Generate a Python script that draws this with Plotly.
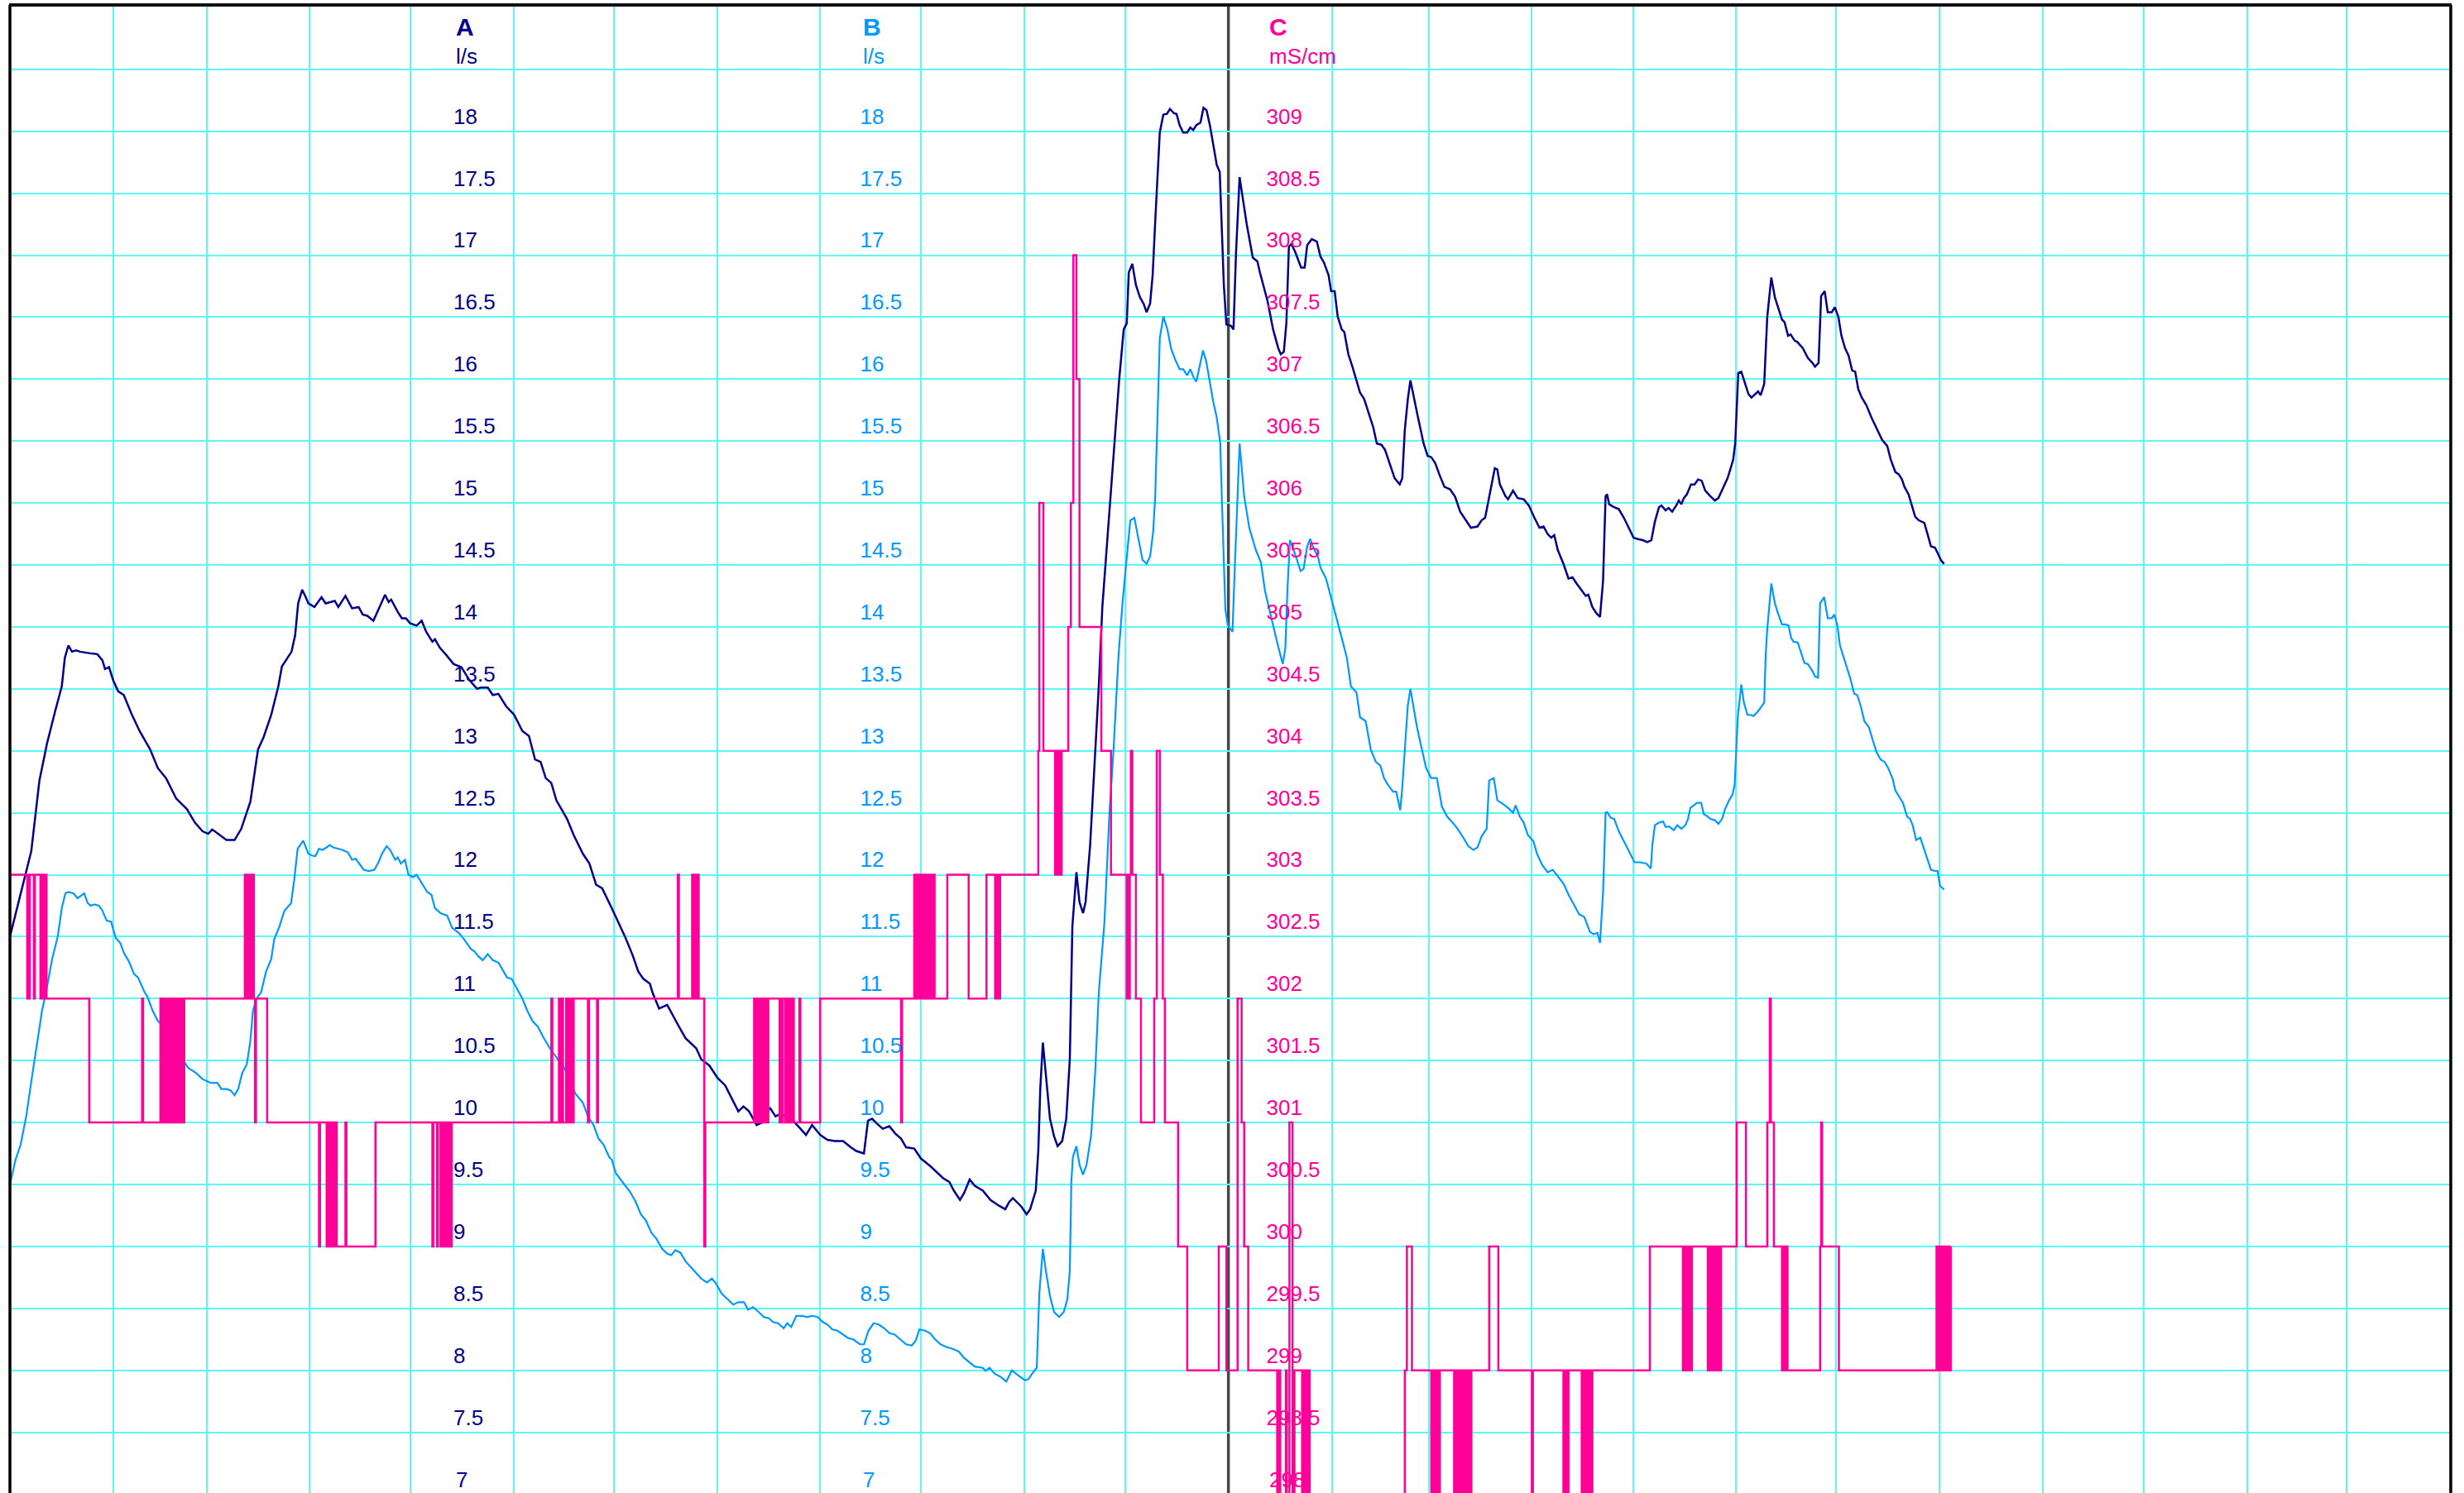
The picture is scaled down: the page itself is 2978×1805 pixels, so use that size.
import plotly.graph_objects as go

# ---------------- data (time in hours since start of record) ----------------
time_a = [0.00, 0.11, 0.26, 0.42, 0.58, 0.73, 0.89, 1.02, 1.08, 1.15, 1.22, 1.30, 1.38, 1.51, 1.61, 1.72, 1.82, 1.87,
          1.95, 2.03, 2.13, 2.24, 2.39, 2.55, 2.76, 2.91, 3.07, 3.27, 3.48, 3.64, 3.79, 3.90, 3.98, 4.16, 4.26, 4.42,
          4.55, 4.73, 4.88, 4.99, 5.14, 5.28, 5.35, 5.54, 5.61, 5.67, 5.75, 5.82, 5.87, 5.99, 6.13, 6.21, 6.39, 6.46,
          6.60, 6.73, 6.86, 6.94, 7.03, 7.15, 7.25, 7.38, 7.45, 7.50, 7.63, 7.71, 7.79, 7.87, 8.00, 8.10, 8.19, 8.31,
          8.36, 8.46, 8.57, 8.73, 8.88, 9.04, 9.19, 9.26, 9.40, 9.50, 9.61, 9.76, 9.92, 10.08, 10.21, 10.33, 10.44,
          10.54, 10.65, 10.75, 10.96, 11.09, 11.27, 11.40, 11.53, 11.65, 11.84, 11.92, 12.10, 12.25, 12.36, 12.46,
          12.59, 12.64, 12.77, 12.93, 13.03, 13.14, 13.29, 13.50, 13.60, 13.76, 13.92, 14.07, 14.23, 14.33, 14.43,
          14.54, 14.69, 14.80, 14.95, 15.06, 15.16, 15.37, 15.53, 15.66, 15.78, 15.94, 16.08, 16.23, 16.39, 16.54,
          16.65, 16.75, 16.80, 16.88, 16.96, 17.06, 17.17, 17.30, 17.42, 17.53, 17.63, 17.79, 17.92, 18.10, 18.26,
          18.36, 18.48, 18.57, 18.69, 18.77, 18.88, 18.98, 19.14, 19.29, 19.45, 19.58, 19.66, 19.73, 19.90, 20.00,
          20.07, 20.18, 20.23, 20.27, 20.32, 20.38, 20.46, 20.54, 20.61, 20.70, 20.78, 20.85, 20.90, 20.98, 21.04,
          21.11, 21.16, 21.25, 21.32, 21.42, 21.49, 21.58, 21.65, 21.73, 21.82, 21.91, 21.97, 22.01, 22.08, 22.15,
          22.23, 22.30, 22.36, 22.43, 22.48, 22.53, 22.62, 22.69, 22.76, 22.82, 22.90, 22.95, 23.01, 23.08, 23.16,
          23.22, 23.28, 23.34, 23.42, 23.48, 23.54, 23.61, 23.69, 23.74, 23.80, 23.84, 23.88, 23.93, 24.02, 24.07,
          24.12, 24.19, 24.26, 24.33, 24.45, 24.54, 24.59, 24.67, 24.74, 24.85, 24.95, 25.00, 25.06, 25.11, 25.16,
          25.21, 25.29, 25.40, 25.47, 25.52, 25.61, 25.71, 25.78, 25.85, 25.94, 25.99, 26.06, 26.12, 26.20, 26.25,
          26.33, 26.41, 26.49, 26.56, 26.64, 26.72, 26.82, 26.89, 26.98, 27.05, 27.13, 27.24, 27.34, 27.39, 27.44,
          27.50, 27.55, 27.62, 27.70, 27.81, 27.89, 27.96, 28.04, 28.12, 28.22, 28.33, 28.43, 28.53, 28.64, 28.74,
          28.87, 28.95, 29.02, 29.10, 29.21, 29.26, 29.31, 29.42, 29.47, 29.57, 29.66, 29.78, 29.88, 29.99, 30.09,
          30.17, 30.25, 30.32, 30.38, 30.45, 30.56, 30.66, 30.74, 30.82, 30.92, 31.00, 31.05, 31.13, 31.21, 31.28,
          31.34, 31.39, 31.42, 31.46, 31.54, 31.65, 31.75, 31.86, 31.94, 32.01, 32.12, 32.21, 32.29, 32.36, 32.44,
          32.49, 32.57, 32.63, 32.70, 32.78, 32.83, 32.88, 32.93, 32.99, 33.07, 33.14, 33.21, 33.28, 33.35, 33.45,
          33.54, 33.61, 33.71, 33.79, 33.85, 33.90, 33.94, 33.97, 34.00, 34.06, 34.13, 34.20, 34.26, 34.34, 34.39,
          34.44, 34.51, 34.57, 34.65, 34.72, 34.78, 34.86, 34.91, 34.98, 35.03, 35.11, 35.16, 35.27, 35.37, 35.46,
          35.51, 35.58, 35.63, 35.70, 35.76, 35.84, 35.90, 35.97, 36.03, 36.10, 36.17, 36.24, 36.30, 36.36, 36.43,
          36.52, 36.62, 36.72, 36.83, 36.93, 37.00, 37.09, 37.16, 37.22, 37.27, 37.35, 37.42, 37.48, 37.55, 37.66,
          37.73, 37.79, 37.87, 37.94, 38.00, 38.05]
flow_a = [11.50, 11.68, 11.91, 12.19, 12.76, 13.06, 13.32, 13.52, 13.75, 13.85, 13.80, 13.81, 13.80, 13.79, 13.785,
          13.78, 13.73, 13.66, 13.675, 13.57, 13.48, 13.45, 13.30, 13.16, 13.01, 12.86, 12.78, 12.615, 12.53, 12.42,
          12.35, 12.33, 12.365, 12.31, 12.28, 12.28, 12.37, 12.59, 13.01, 13.11, 13.29, 13.52, 13.68, 13.80, 13.93,
          14.19, 14.30, 14.24, 14.19, 14.16, 14.24, 14.19, 14.21, 14.16, 14.25, 14.15, 14.16, 14.10, 14.09, 14.05,
          14.14, 14.26, 14.20, 14.22, 14.12, 14.07, 14.07, 14.03, 14.01, 14.05, 13.96, 13.88, 13.90, 13.83, 13.78,
          13.70, 13.675, 13.57, 13.50, 13.51, 13.51, 13.45, 13.46, 13.36, 13.29, 13.16, 13.12, 12.93, 12.91, 12.78,
          12.74, 12.60, 12.45, 12.32, 12.17, 12.09, 11.92, 11.89, 11.73, 11.66, 11.50, 11.35, 11.22, 11.16, 11.12,
          11.05, 10.92, 10.95, 10.87, 10.79, 10.68, 10.60, 10.51, 10.46, 10.36, 10.30, 10.17, 10.09, 10.13, 10.09,
          9.98, 10.00, 10.12, 10.05, 10.07, 10.03, 9.96, 9.90, 9.98, 9.90, 9.86, 9.85, 9.85, 9.80, 9.77, 9.76, 9.75,
          10.015, 10.03, 9.99, 9.95, 9.97, 9.91, 9.87, 9.80, 9.79, 9.71, 9.65, 9.59, 9.55, 9.52, 9.45, 9.375, 9.43,
          9.54, 9.49, 9.45, 9.375, 9.33, 9.30, 9.36, 9.39, 9.32, 9.26, 9.30, 9.45, 9.77, 10.28, 10.645, 10.38, 10.03,
          9.89, 9.81, 9.85, 10.03, 10.51, 11.58, 12.02, 11.78, 11.69, 11.78, 12.24, 12.75, 13.52, 14.16, 14.67, 15.06,
          15.53, 15.99, 16.40, 16.45, 16.86, 16.93, 16.76, 16.66, 16.61, 16.54, 16.61, 16.84, 17.27, 17.99, 18.135,
          18.14, 18.18, 18.145, 18.14, 18.05, 17.99, 17.99, 18.03, 18.01, 18.05, 18.07, 18.19, 18.17, 18.04, 17.83,
          17.73, 17.67, 17.14, 16.76, 16.44, 16.43, 16.40, 17.02, 17.63, 17.45, 17.25, 16.98, 16.95, 16.86, 16.73,
          16.63, 16.40, 16.25, 16.20, 16.22, 16.45, 17.07, 17.09, 17.02, 16.90, 16.90, 17.08, 17.13, 17.11, 16.99,
          16.94, 16.84, 16.71, 16.71, 16.505, 16.40, 16.38, 16.20, 16.10, 15.99, 15.89, 15.84, 15.74, 15.61, 15.48,
          15.47, 15.43, 15.33, 15.20, 15.15, 15.20, 15.59, 15.84, 15.99, 15.84, 15.69, 15.48, 15.38, 15.37, 15.32,
          15.23, 15.13, 15.11, 15.05, 14.93, 14.86, 14.80, 14.81, 14.86, 14.88, 15.055, 15.28, 15.27, 15.15, 15.055,
          15.03, 15.10, 15.04, 15.03, 14.98, 14.88, 14.80, 14.81, 14.75, 14.72, 14.74, 14.62, 14.51, 14.39, 14.40,
          14.35, 14.29, 14.25, 14.26, 14.16, 14.11, 14.08, 14.37, 15.055, 15.07, 14.99, 14.97, 14.95, 14.88, 14.79,
          14.72, 14.71, 14.70, 14.685, 14.70, 14.85, 14.965, 14.98, 14.94, 14.96, 14.93, 14.98, 15.02, 14.99, 15.04,
          15.07, 15.15, 15.15, 15.19, 15.18, 15.10, 15.055, 15.02, 15.04, 15.13, 15.20, 15.28, 15.35, 15.48, 15.74,
          16.05, 16.06, 15.97, 15.88, 15.85, 15.88, 15.90, 15.87, 15.96, 16.50, 16.82, 16.66, 16.58, 16.48, 16.46,
          16.35, 16.36, 16.31, 16.30, 16.25, 16.17, 16.13, 16.10, 16.13, 16.67, 16.71, 16.54, 16.54, 16.58, 16.50,
          16.35, 16.25, 16.19, 16.07, 16.06, 15.92, 15.85, 15.79, 15.69, 15.60, 15.51, 15.46, 15.35, 15.25, 15.23,
          15.19, 15.13, 15.07, 14.98, 14.89, 14.86, 14.84, 14.74, 14.65, 14.64, 14.58, 14.53, 14.51]

time_b = [0.00, 0.11, 0.21, 0.32, 0.42, 0.52, 0.63, 0.71, 0.83, 0.94, 1.02, 1.09, 1.15, 1.25, 1.33, 1.40, 1.46, 1.53,
          1.59, 1.66, 1.75, 1.82, 1.90, 1.99, 2.08, 2.17, 2.24, 2.34, 2.44, 2.52, 2.65, 2.70, 2.81, 2.91, 3.01, 3.10,
          3.22, 3.33, 3.41, 3.51, 3.66, 3.79, 3.95, 4.08, 4.16, 4.26, 4.34, 4.42, 4.49, 4.57, 4.66, 4.73, 4.78, 4.85,
          4.94, 5.04, 5.14, 5.20, 5.30, 5.40, 5.53, 5.59, 5.66, 5.77, 5.82, 5.87, 5.94, 6.01, 6.08, 6.15, 6.23, 6.29,
          6.36, 6.44, 6.54, 6.65, 6.73, 6.80, 6.89, 6.96, 7.06, 7.17, 7.25, 7.32, 7.41, 7.48, 7.58, 7.63, 7.69, 7.77,
          7.84, 7.93, 8.00, 8.10, 8.21, 8.29, 8.36, 8.47, 8.60, 8.70, 8.83, 8.93, 9.07, 9.14, 9.22, 9.30, 9.40, 9.50,
          9.61, 9.71, 9.78, 9.87, 9.95, 10.02, 10.08, 10.18, 10.28, 10.39, 10.49, 10.65, 10.78, 10.91, 11.01, 11.13,
          11.27, 11.37, 11.48, 11.58, 11.68, 11.79, 11.84, 11.92, 12.05, 12.20, 12.31, 12.41, 12.51, 12.62, 12.72,
          12.83, 12.93, 13.01, 13.09, 13.19, 13.29, 13.40, 13.50, 13.60, 13.71, 13.81, 13.89, 14.00, 14.10, 14.23,
          14.33, 14.44, 14.52, 14.62, 14.73, 14.83, 14.93, 15.01, 15.11, 15.22, 15.29, 15.37, 15.47, 15.58, 15.68,
          15.78, 15.89, 15.99, 16.08, 16.18, 16.28, 16.39, 16.49, 16.59, 16.72, 16.80, 16.89, 16.99, 17.09, 17.20,
          17.30, 17.40, 17.51, 17.63, 17.74, 17.82, 17.89, 18.00, 18.10, 18.20, 18.31, 18.41, 18.57, 18.67, 18.77,
          18.88, 18.98, 19.14, 19.19, 19.27, 19.38, 19.48, 19.60, 19.71, 19.83, 19.97, 20.04, 20.12, 20.20, 20.25,
          20.32, 20.38, 20.46, 20.54, 20.64, 20.73, 20.80, 20.85, 20.88, 20.91, 20.98, 21.04, 21.11, 21.18, 21.27,
          21.35, 21.42, 21.53, 21.63, 21.71, 21.81, 21.89, 21.97, 22.04, 22.12, 22.20, 22.28, 22.36, 22.43, 22.49,
          22.53, 22.62, 22.69, 22.77, 22.84, 22.93, 23.01, 23.08, 23.16, 23.22, 23.29, 23.34, 23.40, 23.47, 23.53,
          23.60, 23.67, 23.74, 23.81, 23.84, 23.88, 23.91, 23.96, 24.05, 24.09, 24.14, 24.19, 24.28, 24.38, 24.51,
          24.61, 24.69, 24.80, 24.88, 24.95, 25.04, 25.09, 25.13, 25.18, 25.23, 25.32, 25.39, 25.45, 25.52, 25.58,
          25.65, 25.73, 25.78, 25.89, 25.99, 26.09, 26.20, 26.30, 26.38, 26.49, 26.56, 26.67, 26.77, 26.87, 26.96,
          27.03, 27.10, 27.21, 27.27, 27.35, 27.39, 27.44, 27.50, 27.55, 27.60, 27.68, 27.76, 27.86, 27.96, 28.07,
          28.17, 28.27, 28.38, 28.48, 28.59, 28.69, 28.79, 28.87, 28.95, 29.05, 29.10, 29.19, 29.26, 29.34, 29.47,
          29.57, 29.62, 29.70, 29.78, 29.86, 29.97, 30.04, 30.14, 30.25, 30.35, 30.45, 30.56, 30.66, 30.77, 30.87,
          30.97, 31.08, 31.15, 31.23, 31.28, 31.34, 31.39, 31.42, 31.49, 31.56, 31.65, 31.75, 31.86, 31.96, 32.06,
          32.19, 32.28, 32.31, 32.36, 32.44, 32.52, 32.57, 32.64, 32.73, 32.80, 32.88, 32.96, 33.01, 33.06, 33.12,
          33.19, 33.27, 33.32, 33.40, 33.45, 33.54, 33.61, 33.68, 33.74, 33.82, 33.89, 33.93, 33.96, 33.99, 34.06,
          34.11, 34.18, 34.24, 34.30, 34.39, 34.46, 34.51, 34.54, 34.57, 34.65, 34.72, 34.78, 34.86, 34.93, 34.99,
          35.04, 35.09, 35.17, 35.24, 35.30, 35.37, 35.45, 35.51, 35.57, 35.61, 35.69, 35.76, 35.84, 35.89, 35.95,
          36.00, 36.05, 36.13, 36.20, 36.28, 36.34, 36.41, 36.48, 36.57, 36.65, 36.72, 36.80, 36.88, 36.95, 37.04,
          37.09, 37.16, 37.24, 37.32, 37.38, 37.43, 37.50, 37.58, 37.63, 37.71, 37.79, 37.87, 37.92, 37.97, 38.02,
          38.05]
flow_b = [9.50, 9.70, 9.82, 10.05, 10.33, 10.61, 10.90, 11.05, 11.32, 11.50, 11.73, 11.85, 11.86, 11.85, 11.81, 11.83,
          11.85, 11.77, 11.75, 11.76, 11.75, 11.71, 11.63, 11.62, 11.49, 11.45, 11.37, 11.30, 11.20, 11.17, 11.05,
          11.02, 10.90, 10.82, 10.78, 10.67, 10.63, 10.54, 10.50, 10.44, 10.40, 10.35, 10.32, 10.32, 10.27, 10.27,
          10.26, 10.22, 10.27, 10.40, 10.47, 10.66, 10.90, 11.00, 11.05, 11.22, 11.32, 11.48, 11.58, 11.71, 11.77,
          11.95, 12.21, 12.275, 12.22, 12.17, 12.155, 12.15, 12.21, 12.20, 12.22, 12.24, 12.22, 12.21, 12.20, 12.18,
          12.12, 12.13, 12.08, 12.04, 12.03, 12.04, 12.10, 12.17, 12.23, 12.20, 12.12, 12.14, 12.09, 12.12, 12.00,
          11.98, 12.00, 11.93, 11.86, 11.84, 11.73, 11.69, 11.67, 11.57, 11.53, 11.48, 11.40, 11.38, 11.34, 11.31,
          11.36, 11.31, 11.29, 11.22, 11.17, 11.16, 11.10, 11.05, 11.00, 10.90, 10.82, 10.77, 10.69, 10.58, 10.51,
          10.44, 10.33, 10.23, 10.16, 10.05, 9.98, 9.87, 9.82, 9.72, 9.70, 9.59, 9.52, 9.44, 9.36, 9.26, 9.21, 9.11,
          9.06, 8.98, 8.94, 8.93, 8.97, 8.95, 8.88, 8.83, 8.79, 8.74, 8.71, 8.74, 8.70, 8.62, 8.58, 8.53, 8.55, 8.55,
          8.49, 8.51, 8.47, 8.43, 8.42, 8.39, 8.38, 8.34, 8.38, 8.35, 8.44, 8.44, 8.43, 8.44, 8.43, 8.39, 8.37, 8.33,
          8.32, 8.29, 8.26, 8.25, 8.21, 8.21, 8.32, 8.38, 8.37, 8.34, 8.30, 8.29, 8.25, 8.21, 8.20, 8.24, 8.33, 8.32,
          8.30, 8.25, 8.21, 8.19, 8.17, 8.15, 8.10, 8.06, 8.03, 8.02, 7.996, 8.02, 7.97, 7.95, 7.91, 8.00, 7.96, 7.92,
          7.93, 7.98, 8.02, 8.62, 8.98, 8.80, 8.60, 8.47, 8.43, 8.47, 8.57, 8.80, 9.52, 9.72, 9.81, 9.66, 9.58, 9.66,
          9.90, 10.41, 11.05, 11.61, 12.50, 13.01, 13.78, 14.21, 14.57, 14.86, 14.88, 14.72, 14.54, 14.51, 14.57,
          14.77, 15.055, 16.33, 16.505, 16.40, 16.25, 16.15, 16.08, 16.08, 16.03, 16.08, 16.01, 15.98, 16.10, 16.23,
          16.15, 15.99, 15.82, 15.69, 15.48, 15.05, 14.42, 14.14, 14.01, 13.96, 14.42, 14.93, 15.48, 15.055, 14.80,
          14.62, 14.52, 14.29, 14.11, 13.96, 13.84, 13.70, 13.83, 14.29, 14.70, 14.65, 14.54, 14.45, 14.47, 14.65,
          14.71, 14.63, 14.57, 14.48, 14.39, 14.24, 14.08, 13.91, 13.75, 13.52, 13.47, 13.27, 13.24, 13.01, 12.91,
          12.88, 12.78, 12.73, 12.67, 12.67, 12.52, 12.70, 13.01, 13.37, 13.50, 13.37, 13.19, 13.04, 12.86, 12.78,
          12.78, 12.55, 12.47, 12.42, 12.37, 12.30, 12.23, 12.20, 12.22, 12.31, 12.37, 12.76, 12.78, 12.60, 12.58,
          12.54, 12.50, 12.56, 12.47, 12.42, 12.32, 12.27, 12.17, 12.08, 12.02, 12.04, 11.99, 11.93, 11.84, 11.76,
          11.68, 11.66, 11.54, 11.52, 11.53, 11.45, 11.86, 12.50, 12.505, 12.46, 12.45, 12.35, 12.27, 12.18, 12.10,
          12.10, 12.09, 12.05, 12.24, 12.40, 12.42, 12.43, 12.385, 12.39, 12.36, 12.40, 12.37, 12.40, 12.45, 12.54,
          12.56, 12.58, 12.58, 12.49, 12.47, 12.45, 12.44, 12.41, 12.45, 12.53, 12.60, 12.65, 12.73, 13.01, 13.27,
          13.535, 13.39, 13.29, 13.29, 13.28, 13.32, 13.36, 13.39, 13.78, 13.98, 14.35, 14.19, 14.11, 14.02, 14.02,
          14.01, 13.91, 13.88, 13.875, 13.78, 13.71, 13.70, 13.65, 13.60, 13.59, 14.19, 14.24, 14.07, 14.07, 14.10,
          14.01, 13.85, 13.79, 13.68, 13.59, 13.46, 13.45, 13.36, 13.24, 13.19, 13.08, 12.99, 12.93, 12.91, 12.86,
          12.77, 12.68, 12.63, 12.58, 12.47, 12.45, 12.40, 12.28, 12.30, 12.24, 12.14, 12.04, 12.03, 12.03, 11.91,
          11.89, 11.88]

time_c = [0.00, 0.34, 0.36, 0.37, 0.39, 0.47, 0.49, 0.60, 0.62, 0.64, 0.66, 0.68, 0.70, 0.72, 1.56, 2.60, 2.62, 2.96,
          2.98, 3.02, 3.04, 3.06, 3.08, 3.10, 3.12, 3.16, 3.18, 3.20, 3.22, 3.24, 3.26, 3.28, 3.30, 3.32, 3.34, 3.36,
          3.38, 3.40, 3.41, 3.43, 4.62, 4.64, 4.66, 4.68, 4.70, 4.72, 4.74, 4.76, 4.78, 4.80, 4.82, 4.84, 5.06, 6.08,
          6.10, 6.23, 6.25, 6.27, 6.29, 6.31, 6.33, 6.35, 6.37, 6.39, 6.41, 6.43, 6.60, 6.62, 7.19, 8.31, 8.33, 8.40,
          8.42, 8.47, 8.49, 8.51, 8.53, 8.55, 8.57, 8.59, 8.61, 8.63, 8.65, 8.67, 8.69, 10.65, 10.67, 10.80, 10.82,
          10.86, 10.88, 10.94, 10.96, 10.98, 11.00, 11.02, 11.04, 11.06, 11.08, 11.09, 11.37, 11.39, 11.55, 11.57,
          13.14, 13.16, 13.42, 13.44, 13.46, 13.48, 13.50, 13.52, 13.54, 13.55, 13.66, 13.68, 14.64, 14.66, 14.68,
          14.70, 14.72, 14.74, 14.76, 14.78, 14.80, 14.82, 14.84, 14.86, 14.88, 14.90, 14.92, 15.14, 15.16, 15.18,
          15.20, 15.25, 15.27, 15.29, 15.31, 15.34, 15.36, 15.38, 15.40, 15.42, 15.53, 15.55, 15.94, 17.53, 17.55,
          17.79, 17.81, 17.83, 17.85, 17.87, 17.89, 17.91, 17.92, 17.95, 17.97, 18.00, 18.02, 18.05, 18.07, 18.09,
          18.11, 18.13, 18.15, 18.17, 18.19, 18.44, 18.86, 19.21, 19.38, 19.40, 19.42, 19.44, 19.46, 19.48, 20.23,
          20.25, 20.33, 20.56, 20.58, 20.60, 20.62, 20.64, 20.66, 20.68, 20.69, 20.82, 20.87, 20.92, 20.98, 21.04,
          21.47, 21.66, 21.97, 21.99, 22.01, 22.03, 22.05, 22.08, 22.15, 22.25, 22.51, 22.56, 22.62, 22.68, 22.72,
          22.98, 23.16, 23.78, 23.93, 24.15, 24.23, 24.28, 24.36, 24.93, 24.97, 24.99, 25.10, 25.12, 25.17, 25.23,
          25.27, 25.42, 25.44, 25.46, 25.48, 25.50, 25.52, 25.54, 25.56, 25.57, 27.44, 27.48, 27.58, 27.96, 27.98,
          28.00, 28.02, 28.04, 28.06, 28.08, 28.10, 28.12, 28.13, 28.41, 28.43, 28.45, 28.47, 28.49, 28.51, 28.53,
          28.55, 28.57, 28.59, 28.61, 28.63, 28.65, 28.67, 28.69, 28.71, 28.73, 28.75, 29.10, 29.28, 29.94, 29.96,
          30.56, 30.58, 30.60, 30.62, 30.64, 30.66, 30.92, 30.94, 30.96, 30.98, 31.00, 31.02, 31.04, 31.06, 31.08,
          31.10, 31.12, 31.13, 32.26, 32.91, 32.93, 32.95, 32.97, 32.99, 33.01, 33.03, 33.05, 33.07, 33.09, 33.40,
          33.42, 33.44, 33.46, 33.48, 33.50, 33.52, 33.54, 33.56, 33.58, 33.60, 33.62, 33.64, 33.66, 33.97, 34.15,
          34.57, 34.62, 34.64, 34.70, 34.86, 34.88, 34.90, 34.92, 34.94, 34.96, 34.97, 35.61, 35.63, 35.65, 35.98,
          37.90, 37.92, 37.94, 37.96, 37.98, 38.00, 38.02, 38.04, 38.06, 38.08, 38.10, 38.12, 38.14, 38.16, 38.18]
cond_c = [303, 302, 303, 302, 303, 302, 303, 302, 303, 302, 303, 302, 303, 302, 301, 302, 301, 302,
          301, 302, 301, 302, 301, 302, 301, 302, 301, 302, 301, 302, 301, 302, 301, 302, 301, 302,
          301, 302, 301, 302, 303, 302, 303, 302, 303, 302, 303, 302, 303, 302, 301, 302, 301, 300,
          301, 300, 301, 300, 301, 300, 301, 300, 301, 300, 301, 300, 301, 300, 301, 300, 301, 300,
          301, 300, 301, 300, 301, 300, 301, 300, 301, 300, 301, 300, 301, 302, 301, 302, 301,
          302, 301, 302, 301, 302, 301, 302, 301, 302, 301, 302, 301, 302, 301, 302,
          303, 302, 303, 302, 303, 302, 303, 302, 303, 302, 300, 301, 302, 301, 302,
          301, 302, 301, 302, 301, 302, 301, 302, 301, 302, 301, 302, 301, 302, 301,
          302, 301, 302, 301, 302, 301, 302, 301, 302, 301, 302, 301, 302, 301, 302,
          303, 302, 303, 302, 303, 302, 303, 302, 303, 302, 303, 302, 303, 302, 303,
          302, 303, 302, 303, 302, 303, 302, 303, 302, 303, 302, 303, 302, 303, 304,
          306, 304, 303, 304, 303, 304, 303, 304, 303, 304, 305, 306, 308, 307, 305,
          304, 303, 302, 303, 302, 303, 304, 303, 302, 301, 302, 304, 303, 302, 301,
          300, 299, 300, 299, 302, 301, 300, 299, 298, 299, 298, 299, 298, 301, 298,
          299, 298, 299, 298, 299, 298, 299, 298, 299, 298, 299, 300, 299, 298, 299,
          298, 299, 298, 299, 298, 299, 298, 299, 298, 299, 298, 299, 298, 299, 298,
          299, 298, 299, 298, 299, 298, 299, 298, 299, 298, 299, 300, 299, 298, 299,
          298, 299, 298, 299, 298, 299, 298, 299, 298, 299, 298, 299, 298, 299, 298,
          299, 298, 299, 300, 299, 300, 299, 300, 299, 300, 299, 300, 299, 300, 299,
          300, 299, 300, 299, 300, 299, 300, 299, 300, 299, 300, 299, 300, 301, 300,
          301, 302, 301, 300, 299, 300, 299, 300, 299, 300, 299, 300, 301, 300, 299,
          300, 299, 300, 299, 300, 299, 300, 299, 300, 299, 300, 299, 300, 299, 300]

flow_tickvals = [7.5, 8, 8.5, 9, 9.5, 10, 10.5, 11, 11.5, 12, 12.5, 13, 13.5, 14, 14.5, 15, 15.5, 16, 16.5,
                 17, 17.5, 18, 18.5]
flow_ticktext = ["7.5", "8", "8.5", "9", "9.5", "10", "10.5", "11", "11.5", "12", "12.5", "13", "13.5",
                 "14", "14.5", "15", "15.5", "16", "16.5", "17", "17.5", "18", ""]
cond_tickvals = [298.5, 299, 299.5, 300, 300.5, 301, 301.5, 302, 302.5, 303, 303.5, 304, 304.5, 305, 305.5,
                 306, 306.5, 307, 307.5, 308, 308.5, 309, 309.5]
cond_ticktext = ["298.5", "299", "299.5", "300", "300.5", "301", "301.5", "302", "302.5", "303", "303.5",
                 "304", "304.5", "305", "305.5", "306", "306.5", "307", "307.5", "308", "308.5", "309", ""]
# lowest scale value, whose grid line lies just below the visible bottom edge
flow_bottom_label = "7"
cond_bottom_label = "298"
grid_hours = [2.03, 3.87, 5.90, 7.87, 9.91, 11.88, 13.91, 15.94, 17.92, 19.96, 21.94, 26.01, 27.91, 29.94,
              31.93, 33.96, 35.92, 37.95, 39.99, 41.97, 44.01, 45.97]
day_change_hour = 23.97

# ---------------- styling ----------------
W, H = 2978, 1805
ML, MR, MT, MB = 12, 17, 8, 0
PW = W - ML - MR
PH = H - MT - MB
FONT = "Liberation Sans, Arial, Helvetica, sans-serif"
COL_A = "#00008C"
COL_B = "#0099FF"
COL_C = "#FF0099"
GRID = "#5CF7F7"


def xf(px):
    return (px - ML) / PW


def yf(py):
    return 1 - (py - MT) / PH


flow_range = [7.01, 19.006]
cond_range = [298.01, 310.006]

fig = go.Figure()
fig.add_trace(go.Scatter(x=time_c, y=cond_c, yaxis="y3", mode="lines", name="C",
                         line=dict(color=COL_C, width=2.5, shape="hv"), hoverinfo="skip"))
fig.add_trace(go.Scatter(x=time_b, y=flow_b, yaxis="y2", mode="lines", name="B",
                         line=dict(color=COL_B, width=2.2), hoverinfo="skip"))
fig.add_trace(go.Scatter(x=time_a, y=flow_a, yaxis="y", mode="lines", name="A",
                         line=dict(color=COL_A, width=2.5), hoverinfo="skip"))

axis_common = dict(side="right", anchor="free", ticks="", showline=False, zeroline=False,
                   ticklabelposition="outside top", automargin=False, fixedrange=True,
                   ticklabelstandoff=0)

fig.update_layout(
    width=W, height=H,
    margin=dict(l=ML, r=MR, t=MT, b=MB, pad=0),
    paper_bgcolor="white", plot_bgcolor="white",
    showlegend=False,
    font=dict(family=FONT, size=26),
    xaxis=dict(range=[0, 48], tickvals=grid_hours, showticklabels=False, ticks="",
               showgrid=True, gridcolor=GRID, gridwidth=2, zeroline=False, showline=False,
               fixedrange=True),
    yaxis=dict(range=flow_range, tickvals=flow_tickvals, ticktext=flow_ticktext,
               position=xf(547), showgrid=True, gridcolor=GRID, gridwidth=2,
               tickfont=dict(color=COL_A, size=26, family=FONT), **axis_common),
    yaxis2=dict(range=flow_range, tickvals=flow_tickvals, ticktext=flow_ticktext,
                position=xf(1038.5), overlaying="y", showgrid=False,
                tickfont=dict(color=COL_B, size=26, family=FONT), **axis_common),
    yaxis3=dict(range=cond_range, tickvals=cond_tickvals, ticktext=cond_ticktext,
                position=xf(1529.5), overlaying="y", showgrid=False,
                tickfont=dict(color=COL_C, size=26, family=FONT), **axis_common),
)

titles = [("A", "l/s", COL_A, 549), ("B", "l/s", COL_B, 1040.5), ("C", "mS/cm", COL_C, 1531.5)]
for name, unit, col, px in titles:
    fig.add_annotation(text="<b>%s</b>" % name, xref="paper", yref="paper", x=xf(px), y=yf(32.8),
                       xanchor="left", yanchor="middle", showarrow=False,
                       font=dict(family=FONT, size=30, color=col))
    fig.add_annotation(text=unit, xref="paper", yref="paper", x=xf(px), y=yf(67.6),
                       xanchor="left", yanchor="middle", showarrow=False,
                       font=dict(family=FONT, size=26, color=col))

# labels of the lowest scale value (their grid line is just off the bottom edge)
bottom_labels = [(flow_bottom_label, COL_A, 549), (flow_bottom_label, COL_B, 1040.5),
                 (cond_bottom_label, COL_C, 1531.5)]
for txt, col, px in bottom_labels:
    fig.add_annotation(text=txt, xref="paper", yref="paper", x=xf(px), y=yf(1789),
                       xanchor="left", yanchor="middle", showarrow=False,
                       font=dict(family=FONT, size=26, color=col))

# day-change marker and frame
fig.add_shape(type="line", xref="x", yref="paper", x0=day_change_hour, x1=day_change_hour, y0=0, y1=1,
              line=dict(color="#474747", width=3.5), layer="between")
fig.add_shape(type="line", xref="paper", yref="paper", x0=0, x1=0, y0=0, y1=1 + 2 / PH,
              line=dict(color="black", width=3.5), layer="above")
fig.add_shape(type="line", xref="paper", yref="paper", x0=1 + 1 / PW, x1=1 + 1 / PW, y0=0, y1=1 + 2 / PH,
              line=dict(color="black", width=3.5), layer="above")
fig.add_shape(type="line", xref="paper", yref="paper", x0=-1 / PW, x1=1 + 2 / PW, y0=1 + 2 / PH, y1=1 + 2 / PH,
              line=dict(color="#111111", width=4), layer="above")

fig.write_html("out.html", config={"displayModeBar": False, "staticPlot": True},
               post_script="document.body.style.margin='0';document.documentElement.style.overflow='hidden';")
